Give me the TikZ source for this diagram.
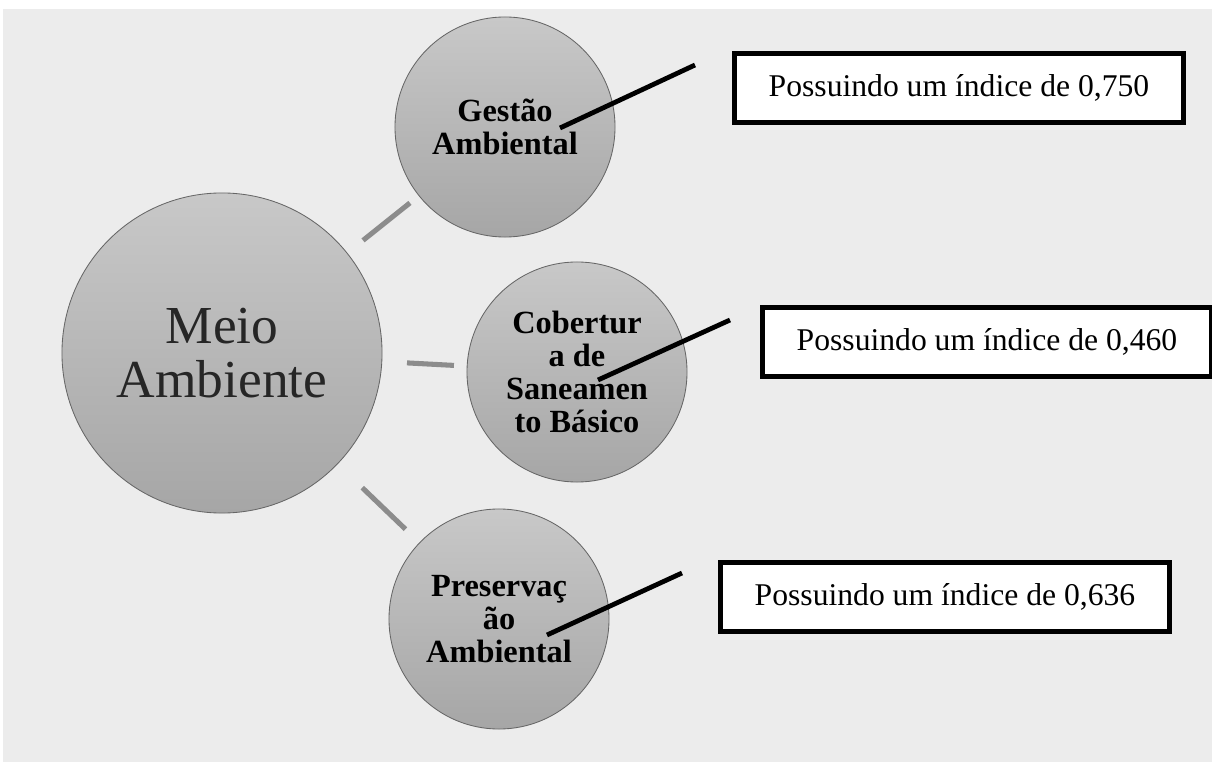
\documentclass[tikz,border=0pt]{standalone}
\usepackage{fontspec}
\setmainfont{Liberation Serif}
\usetikzlibrary{positioning}
\definecolor{paper}{RGB}{236,236,236}
\definecolor{disctop}{RGB}{200,200,200}
\definecolor{discbot}{RGB}{166,166,166}
\definecolor{linkgray}{RGB}{140,140,140}
\tikzset{
  disc/.style={circle, draw=black!60, line width=0.6pt, top color=disctop,
    bottom color=discbot, align=center, inner sep=0pt},
  hub/.style={disc, minimum size=8cm, text=black!85,
    font=\fontsize{38}{39}\selectfont},
  topic/.style={disc, minimum size=5.5cm,
    font=\bfseries\fontsize{23}{23.5}\selectfont},
  valbox/.style={draw, line width=3.2pt, fill=white, minimum height=1.72cm,
    inner xsep=0.85cm, font=\fontsize{22.5}{27}\selectfont},
  link/.style={draw=linkgray, line width=3.6pt},
  pointer/.style={draw=black, line width=3.4pt}
}
\begin{document}
\begin{tikzpicture}[x=0.025cm, y=-0.025cm]
    \useasboundingbox (0,0) rectangle (1212,767);
    \fill[white] (0,0) rectangle (1212,767);
    \fill[paper] (3,9) rectangle (1212,762);

    % circles
    \node[hub] (meio) at (222,353) {Meio\\Ambiente};
    \node[topic] (gestao) at (505,127) {Gestão\\Ambiental};
    \node[topic] (cobert) at (577,372) {Cobertur\\a de\\Saneamen\\to Básico};
    \node[topic] (preserv) at (499,619) {Preservaç\\ão\\Ambiental};

    \draw[link, shorten <=0.5cm, shorten >=0.28cm] (meio) -- (gestao);
    \draw[link, shorten <=0.62cm, shorten >=0.32cm] (meio) -- (cobert);
    \draw[link, shorten <=0.85cm, shorten >=0.48cm] (meio) -- (preserv);

    % value boxes
    \node[valbox] (v1) at (959,88) {Possuindo um índice de 0,750};
    \node[valbox] (v2) at (987,342) {Possuindo um índice de 0,460};
    \node[valbox] (v3) at (945,597) {Possuindo um índice de 0,636};

    \coordinate (p1) at (560,128);
    \coordinate (q1) at (695,65);
    \coordinate (p2) at (598,380);
    \coordinate (q2) at (730,320);
    \coordinate (p3) at (547,635);
    \coordinate (q3) at (682,573);
    \draw[pointer] (p1) -- (q1);
    \draw[pointer] (p2) -- (q2);
    \draw[pointer] (p3) -- (q3);
\end{tikzpicture}
\end{document}
